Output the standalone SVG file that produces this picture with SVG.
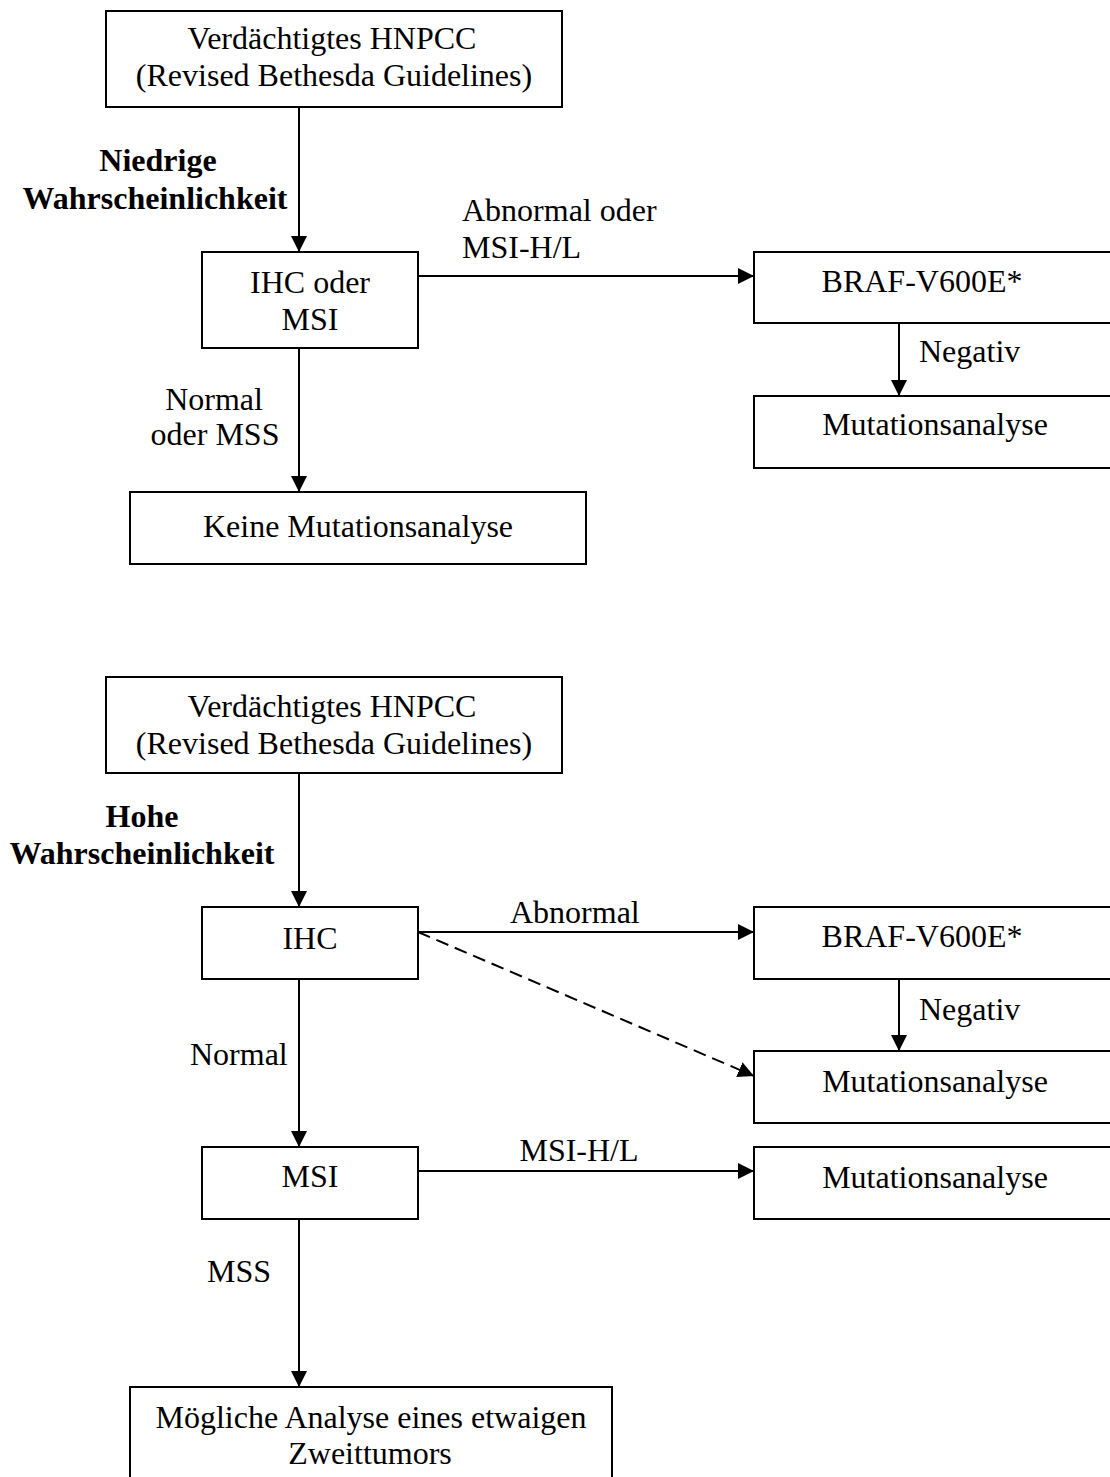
<svg xmlns="http://www.w3.org/2000/svg" width="1110" height="1477" viewBox="0 0 1110 1477">
<style>
.box{fill:#fff;stroke:#000;stroke-width:2}
.t{font-family:"Liberation Serif","Times New Roman",serif;font-size:32px;fill:#000}
.c{text-anchor:middle}
.b{font-weight:bold}
.ln{fill:none;stroke:#000;stroke-width:2}
.dash{stroke-dasharray:13 7}
</style>
<defs>
<marker id="ah" markerUnits="userSpaceOnUse" markerWidth="16" markerHeight="16" refX="16" refY="8" orient="auto">
<path d="M0,0 L16,8 L0,16 Z" fill="#000"/>
</marker>
</defs>
<rect width="1110" height="1477" fill="#fff"/>
<g id="connectors">
<line class="ln" x1="299" y1="107" x2="299" y2="252" marker-end="url(#ah)"/>
<line class="ln" x1="418" y1="276" x2="754" y2="276" marker-end="url(#ah)"/>
<line class="ln" x1="899" y1="323" x2="899" y2="396" marker-end="url(#ah)"/>
<line class="ln" x1="299" y1="348" x2="299" y2="492" marker-end="url(#ah)"/>
<line class="ln" x1="299" y1="773" x2="299" y2="907" marker-end="url(#ah)"/>
<line class="ln" x1="418" y1="932" x2="754" y2="932" marker-end="url(#ah)"/>
<line class="ln dash" x1="418" y1="932" x2="754" y2="1076" marker-end="url(#ah)"/>
<line class="ln" x1="899" y1="979" x2="899" y2="1051" marker-end="url(#ah)"/>
<line class="ln" x1="299" y1="979" x2="299" y2="1147" marker-end="url(#ah)"/>
<line class="ln" x1="418" y1="1171" x2="754" y2="1171" marker-end="url(#ah)"/>
<line class="ln" x1="299" y1="1219" x2="299" y2="1387" marker-end="url(#ah)"/>
<text class="t c b" x="158" y="171">Niedrige</text>
<text class="t c b" x="155" y="209">Wahrscheinlichkeit</text>
<text class="t" x="462" y="221">Abnormal oder</text>
<text class="t" x="462" y="258">MSI-H/L</text>
<text class="t" x="919" y="362">Negativ</text>
<text class="t c" x="214" y="410">Normal</text>
<text class="t c" x="215" y="445">oder MSS</text>
<text class="t c b" x="142" y="827">Hohe</text>
<text class="t c b" x="142" y="864">Wahrscheinlichkeit</text>
<text class="t" x="510" y="923">Abnormal</text>
<text class="t" x="919" y="1020">Negativ</text>
<text class="t" x="190" y="1065">Normal</text>
<text class="t c" x="579" y="1161">MSI-H/L</text>
<text class="t" x="207" y="1282">MSS</text>
</g>
<g id="n1">
<rect class="box" x="106" y="11" width="456" height="96"/>
<text class="t c" x="332" y="49">Verdächtigtes HNPCC</text>
<text class="t c" x="334" y="86">(Revised Bethesda Guidelines)</text>
</g>
<g id="n2">
<rect class="box" x="202" y="252" width="216" height="96"/>
<text class="t c" x="310" y="293">IHC oder</text>
<text class="t c" x="310" y="330">MSI</text>
</g>
<g id="n3">
<rect class="box" x="754" y="252" width="380" height="71"/>
<text class="t c" x="922" y="292">BRAF-V600E*</text>
</g>
<g id="n4">
<rect class="box" x="754" y="396" width="380" height="72"/>
<text class="t c" x="935" y="435">Mutationsanalyse</text>
</g>
<g id="n5">
<rect class="box" x="130" y="492" width="456" height="72"/>
<text class="t c" x="358" y="537">Keine Mutationsanalyse</text>
</g>
<g id="n6">
<rect class="box" x="106" y="677" width="456" height="96"/>
<text class="t c" x="332" y="717">Verdächtigtes HNPCC</text>
<text class="t c" x="334" y="754">(Revised Bethesda Guidelines)</text>
</g>
<g id="n7">
<rect class="box" x="202" y="907" width="216" height="72"/>
<text class="t c" x="310" y="949">IHC</text>
</g>
<g id="n8">
<rect class="box" x="754" y="907" width="380" height="72"/>
<text class="t c" x="922" y="947">BRAF-V600E*</text>
</g>
<g id="n9">
<rect class="box" x="754" y="1051" width="380" height="72"/>
<text class="t c" x="935" y="1092">Mutationsanalyse</text>
</g>
<g id="n10">
<rect class="box" x="202" y="1147" width="216" height="72"/>
<text class="t c" x="310" y="1187">MSI</text>
</g>
<g id="n11">
<rect class="box" x="754" y="1147" width="380" height="72"/>
<text class="t c" x="935" y="1188">Mutationsanalyse</text>
</g>
<g id="n12">
<rect class="box" x="130" y="1387" width="482" height="110"/>
<text class="t c" x="371" y="1428">Mögliche Analyse eines etwaigen</text>
<text class="t c" x="370" y="1464">Zweittumors</text>
</g>
</svg>
